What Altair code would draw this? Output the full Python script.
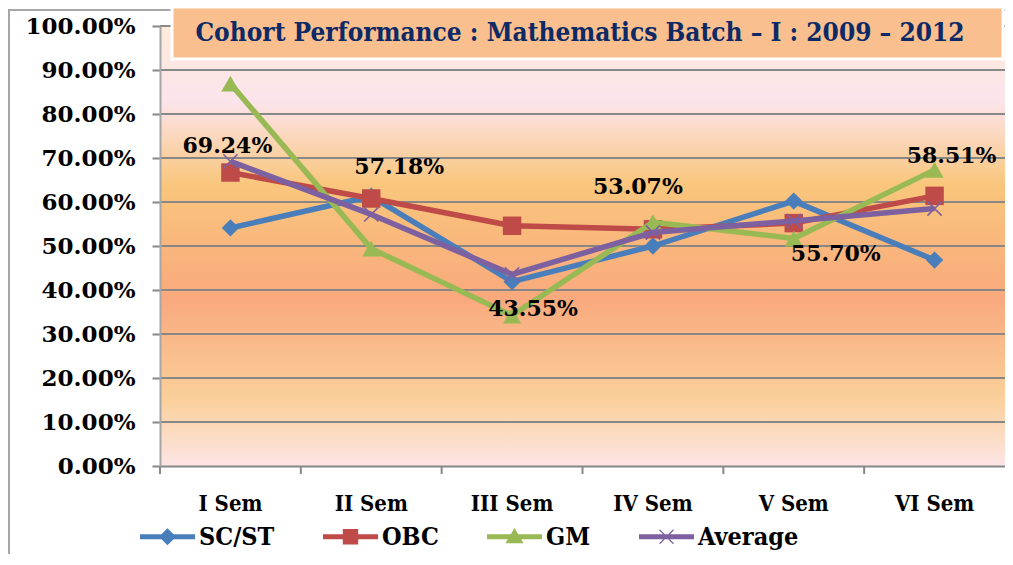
import altair as alt
import pandas as pd

# ---------------- data ----------------
SEMS = ["I Sem", "II Sem", "III Sem", "IV Sem", "V Sem", "VI Sem"]
SERIES = ["SC/ST", "OBC", "GM", "Average"]
SC_ST = [54.1, 61.3, 41.9, 50.0, 60.2, 46.8]
OBC = [66.7, 60.8, 54.6, 53.8, 55.2, 61.4]
GM = [86.9, 49.4, 34.2, 55.4, 51.7, 67.3]
AVERAGE = [69.24, 57.18, 43.55, 53.07, 55.70, 58.51]
Y_TICKS = [0, 10, 20, 30, 40, 50, 60, 70, 80, 90, 100]
TITLE = "Cohort Performance : Mathematics Batch \u2013 I : 2009 \u2013 2012"

# ---------------- style ----------------
COLORS = ["#4A7EBB", "#BE4B48", "#98B954", "#7D60A0"]
GRID = "#878787"
W, H = 845, 440
COND = "DejaVu Serif Condensed"
# label offsets (dx, dy) for the Average data labels
LABEL_OFFSETS = [(-3, -15), (28, -47), (21, 35), (-15, -45), (42, 33), (17, -53)]
# legend symbols: line segment plus marker
LEGEND_PATHS = [
    "M-1,-0.09L1,-0.09L1,0.09L-1,0.09Z M0,-0.31L0.31,0L0,0.31L-0.31,0Z",
    "M-1,-0.09L1,-0.09L1,0.09L-1,0.09Z M-0.28,-0.28L0.28,-0.28L0.28,0.28L-0.28,0.28Z",
    "M-1,-0.09L1,-0.09L1,0.09L-1,0.09Z M0,-0.32L0.33,0.24L-0.33,0.24Z",
    "M-1,-0.09L1,-0.09L1,0.09L-1,0.09Z M-0.27,-0.24L-0.24,-0.27L0.27,0.24L0.24,0.27Z M0.24,-0.27L0.27,-0.24L-0.24,0.27L-0.27,0.24Z",
]

values = {"SC/ST": SC_ST, "OBC": OBC, "GM": GM, "Average": AVERAGE}
rows = []
for s in SERIES:
    for sem, v in zip(SEMS, values[s]):
        rows.append({"sem": sem, "series": s, "value": v / 100.0})
df = pd.DataFrame(rows)

color_scale = alt.Scale(domain=SERIES, range=COLORS)
y_scale = alt.Scale(domain=[0, 1], nice=False, zero=True)
x_scale = alt.Scale(type="band", domain=SEMS, paddingInner=0, paddingOuter=0)

x_axis = alt.Axis(
    title=None, labelAngle=0, ticks=False, tickSize=0, labelPadding=27,
    labelFont=COND, labelFontWeight="bold", labelFontSize=22,
    labelColor="#000000", domainColor=GRID, domainWidth=2, grid=False, zindex=1,
)
y_axis = alt.Axis(
    title=None, values=[t / 100 for t in Y_TICKS], format=".2%", grid=False,
    tickSize=8, tickColor=GRID, tickWidth=2, domainColor="#A6A6A6", domainWidth=2,
    labelPadding=17, labelFont="DejaVu Serif", labelFontWeight="bold",
    labelFontSize=23, labelColor="#000000", zindex=1,
)


def X(**kw):
    return alt.X("sem:N", sort=SEMS, scale=x_scale, axis=x_axis, **kw)


def Y(field="value:Q"):
    return alt.Y(field, scale=y_scale, axis=y_axis)


one = pd.DataFrame({"k": [0]})

background = alt.Chart(one).mark_rect(
    fill=alt.Gradient(
        gradient="linear", x1=0, x2=0, y1=0, y2=1,
        stops=[
            alt.GradientStop(color="#FDEBDA", offset=0.0),
            alt.GradientStop(color="#FCE4EC", offset=0.17),
            alt.GradientStop(color="#F9C67C", offset=0.36),
            alt.GradientStop(color="#F9A97D", offset=0.62),
            alt.GradientStop(color="#FAD09B", offset=0.85),
            alt.GradientStop(color="#FDE5E6", offset=1.0),
        ],
    )
).encode(x=alt.value(0), x2=alt.value(W), y=alt.value(0), y2=alt.value(H))

border = alt.Chart(one).mark_rect(
    fill=None, stroke="#A6A6A6", strokeWidth=2
).encode(x=alt.value(-151), x2=alt.value(W + 200), y=alt.value(-16), y2=alt.value(H + 300))

grid = alt.Chart(pd.DataFrame({"v": [t / 100 for t in Y_TICKS[1:]]})).mark_rule(
    color=GRID, strokeWidth=2
).encode(y=Y("v:Q"))

sem_df = pd.DataFrame({"sem": SEMS})
xticks = alt.Chart(sem_df).mark_rule(color=GRID, strokeWidth=2).encode(
    x=X(bandPosition=0), y=alt.value(H), y2=alt.value(H + 8)
)

series_layers = []
marker_specs = {
    "SC/ST": dict(shape="diamond", filled=True, size=300),
    "OBC": dict(shape="square", filled=True, size=340),
    "GM": dict(shape="triangle-up", filled=True, size=330),
    "Average": dict(shape="M-1,-1L1,1M-1,1L1,-1", filled=False, size=200, strokeWidth=1.6),
}
for s, c in zip(SERIES, COLORS):
    d = df[df["series"] == s]
    line = alt.Chart(d).mark_line(strokeWidth=5.5, strokeJoin="round", color=c).encode(
        x=X(), y=Y()
    )
    spec = marker_specs[s]
    pts = alt.Chart(d).mark_point(opacity=1, color=c, **spec).encode(x=X(), y=Y())
    series_layers += [line, pts]

legend_kw = dict(
    title=None, orient="none", legendX=-20, legendY=483, direction="horizontal",
    symbolSize=3025, symbolStrokeWidth=0, labelFont=COND,
    labelFontWeight="bold", labelFontSize=25, labelColor="#000000",
    columnPadding=48, labelOffset=4, labelLimit=0, columns=4,
)
legend_layer = alt.Chart(df).mark_point(filled=True, size=1, opacity=1).encode(
    x=X(), y=Y(),
    color=alt.Color("series:N", scale=color_scale, legend=alt.Legend(**legend_kw)),
    shape=alt.Shape("series:N", scale=alt.Scale(domain=SERIES, range=LEGEND_PATHS),
                    legend=alt.Legend(**legend_kw)),
)

avg = df[df["series"] == "Average"].reset_index(drop=True)
label_layers = []
for i, (dx, dy) in enumerate(LABEL_OFFSETS):
    label_layers.append(
        alt.Chart(avg.iloc[[i]]).mark_text(
            dx=dx, dy=dy, font="DejaVu Serif", fontWeight="bold", fontSize=22,
            color="#000000", baseline="middle", align="center",
        ).encode(x=X(), y=Y(), text=alt.Text("value:Q", format=".2%"))
    )

title_box = alt.Chart(one).mark_rect(
    fill="#F9BF8F", stroke="#FFFFFF", strokeWidth=3
).encode(x=alt.value(12), x2=alt.value(843), y=alt.value(-19), y2=alt.value(33))
title_text = alt.Chart(pd.DataFrame({"t": [TITLE]})).mark_text(
    font=COND, fontWeight="bold", fontSize=26, color="#0D2A66",
    align="center", baseline="middle",
).encode(text="t:N", x=alt.value(420), y=alt.value(7))

chart = alt.layer(
    background, grid, xticks, *series_layers, legend_layer,
    *label_layers, border, title_box, title_text,
).properties(
    width=W, height=H,
    autosize=alt.AutoSizeParams(type="none"),
    padding={"left": 152, "top": 18, "right": 0, "bottom": 88},
).configure_view(stroke=None).configure(background="#FFFFFF")

chart.save("out.html", embed_options={"renderer": "svg", "actions": False})
